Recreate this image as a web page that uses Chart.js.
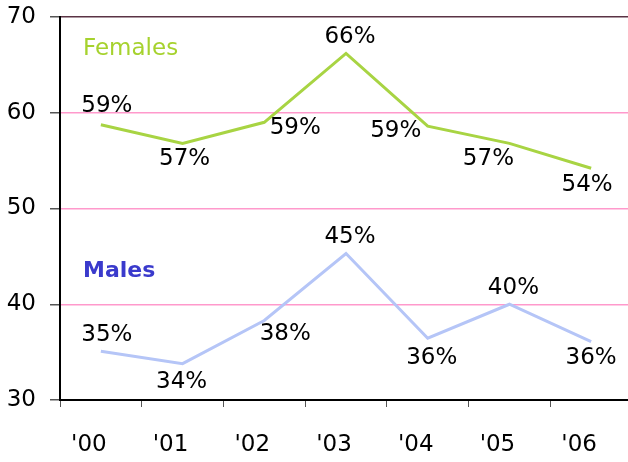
<!DOCTYPE html>
<html>
<head>
<meta charset="utf-8">
<script src="https://cdn.jsdelivr.net/npm/chart.js@4"></script>
<style>
  html, body { margin: 0; padding: 0; overflow: hidden; background: #fff; }
  .wrap { width: 640px; height: 462px; }
</style>
</head>
<body>
<div class="wrap"><canvas class="chart-1"></canvas></div>
<script>
var years = ["'00", "'01", "'02", "'03", "'04", "'05", "'06"];
var females = [58.75, 56.8, 59.0, 66.2, 58.6, 56.8, 54.2];
var males = [35.1, 33.8, 38.3, 45.3, 36.45, 40.0, 36.1];
var yTicks = [30, 40, 50, 60, 70];

// label offsets from each point, in px (dx, dy of text centre)
var femaleOffsets = [[6, -19], [2, 16], [31, 6], [4, -16], [-32, 5], [-21, 16], [-4, 17]];
var maleOffsets = [[6, -16], [-1, 18], [21, 14], [4, -16], [4, 20], [4, -16], [0, 16]];

var font = "'DejaVu Sans', sans-serif";

var valueLabels = {
    id: 'valueLabels',
    afterDatasetsDraw: function (chart) {
        var c = chart.ctx;
        var xs = chart.scales.x, ys = chart.scales.y;
        c.save();
        c.font = '23px ' + font;
        c.fillStyle = '#000';
        c.textAlign = 'center';
        c.textBaseline = 'middle';
        [[females, femaleOffsets], [males, maleOffsets]].forEach(function (s) {
            s[0].forEach(function (v, i) {
                var x = xs.getPixelForValue(i) + s[1][i][0];
                var y = ys.getPixelForValue(v) + s[1][i][1];
                c.fillText(Math.round(v) + '%', x, y);
            });
        });
        // series names
        c.textAlign = 'left';
        c.font = '23px ' + font;
        c.fillStyle = '#a6d22e';
        c.fillText('Females', chart.chartArea.left + 23, ys.getPixelForValue(66.7));
        c.font = 'bold 22px ' + font;
        c.fillStyle = '#3a3acc';
        c.fillText('Males', chart.chartArea.left + 23, ys.getPixelForValue(43.4));
        c.restore();
    }
};

var ctx1 = document.querySelector(".chart-1");
const chart1 = new Chart(ctx1, {
    type: 'line',
    data: {
        labels: years,
        datasets: [
            {
                label: 'Females',
                data: females,
                borderColor: '#a8d443',
                borderWidth: 3,
                pointRadius: 0,
                tension: 0
            },
            {
                label: 'Males',
                data: males,
                borderColor: '#b5c5f7',
                borderWidth: 3,
                pointRadius: 0,
                tension: 0
            }
        ]
    },
    options: {
        responsive: true,
        maintainAspectRatio: false,
        animation: false,
        layout: { padding: { left: 0, top: 17, right: 8, bottom: 4 } },
        plugins: {
            legend: { display: false },
            tooltip: { enabled: false }
        },
        scales: {
            x: {
                offset: true,
                afterFit: function (axis) {
                    axis.height = 58;
                    axis.paddingLeft = 0;
                    axis.paddingRight = 0;
                },
                grid: {
                    offset: true,
                    drawOnChartArea: false,
                    tickLength: 7,
                    tickColor: '#555'
                },
                border: { color: '#000', width: 2 },
                ticks: {
                    color: '#000',
                    font: { family: font, size: 23 },
                    padding: 24,
                    labelOffset: -12,
                    maxRotation: 0
                }
            },
            y: {
                min: 30,
                max: 70,
                afterFit: function (axis) {
                    axis.width = 60;
                    axis.paddingTop = 0;
                    axis.paddingBottom = 0;
                },
                afterBuildTicks: function (axis) {
                    axis.ticks = yTicks.map(function (v) { return { value: v }; });
                },
                grid: {
                    color: function (c) { return c.tick && c.tick.value === 70 ? '#5a3344' : '#ff99cc'; },
                    lineWidth: 1.5,
                    tickLength: 10,
                    tickColor: '#555'
                },
                border: { color: '#000', width: 2 },
                ticks: {
                    color: '#000',
                    font: { family: font, size: 23 },
                    padding: 14
                }
            }
        }
    },
    plugins: [valueLabels]
});
</script>
</body>
</html>
